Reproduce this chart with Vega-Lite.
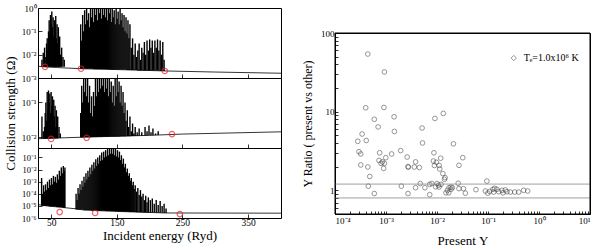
{
  "$schema": "https://vega.github.io/schema/vega-lite/v6.json",
  "background": "white",
  "padding": {"left": 3, "top": 3, "right": 3, "bottom": 3},
  "config": {
    "font": "Liberation Serif",
    "concat": {"spacing": 0},
    "view": {"stroke": "black", "strokeWidth": 1},
    "axis": {"labelFont": "Liberation Serif", "titleFont": "Liberation Serif", "labelFontSize": 10, "titleFontSize": 13, "titleFontWeight": "normal", "grid": false, "domain": false, "tickColor": "black", "labelColor": "black", "titleColor": "black", "tickWidth": 0.8, "labelOverlap": false, "labelSeparation": 0, "labelBound": false},
    "text": {"font": "Liberation Serif"}
  },
  "datasets": {
    "g1": [{"e":30,"v":0.0032},{"e":40,"v":0.003},{"e":60,"v":0.0028},{"e":95,"v":0.0025},{"e":150,"v":0.0023},{"e":225,"v":0.002},{"e":300,"v":0.0018},{"e":400,"v":0.0016}],
    "s1": [
      {"e":36,"t":0.006,"b":0.003},{"e":38,"t":0.012,"b":0.003},{"e":40,"t":0.02,"b":0.003},{"e":41,"t":0.008,"b":0.003},{"e":43,"t":0.03,"b":0.003},{"e":44,"t":0.05,"b":0.003},{"e":45,"t":0.015,"b":0.003},{"e":46,"t":0.1,"b":0.003},{"e":47,"t":0.3,"b":0.003},{"e":48,"t":0.08,"b":0.003},{"e":49,"t":0.5,"b":0.003},{"e":50,"t":0.2,"b":0.003},{"e":51,"t":0.7,"b":0.003},{"e":52,"t":0.15,"b":0.003},{"e":53,"t":0.4,"b":0.003},{"e":54,"t":0.06,"b":0.003},{"e":55,"t":0.3,"b":0.003},{"e":56,"t":0.1,"b":0.003},{"e":57,"t":0.45,"b":0.003},{"e":58,"t":0.05,"b":0.003},{"e":59,"t":0.2,"b":0.003},{"e":60,"t":0.03,"b":0.003},{"e":61,"t":0.15,"b":0.003},{"e":62,"t":0.02,"b":0.003},{"e":63,"t":0.06,"b":0.003},{"e":64,"t":0.01,"b":0.003},{"e":66,"t":0.02,"b":0.003},{"e":68,"t":0.008,"b":0.003},{"e":70,"t":0.006,"b":0.003},
      {"e":95,"t":0.2,"b":0.0025},{"e":96.5,"t":0.04,"b":0.0025},{"e":98,"t":0.5,"b":0.0025},{"e":99.5,"t":0.1,"b":0.0025},{"e":101,"t":0.8,"b":0.0025},{"e":102.5,"t":0.2,"b":0.0025},{"e":104,"t":1.2,"b":0.0025},{"e":105.5,"t":0.3,"b":0.0025},{"e":107,"t":0.6,"b":0.0025},{"e":108.5,"t":0.15,"b":0.0025},{"e":110,"t":1.5,"b":0.0025},{"e":111.5,"t":0.4,"b":0.0025},{"e":113,"t":0.9,"b":0.0025},{"e":114.5,"t":0.25,"b":0.0024},{"e":116,"t":1.5,"b":0.0024},{"e":117.5,"t":0.5,"b":0.0024},{"e":119,"t":1.2,"b":0.0024},{"e":120.5,"t":0.3,"b":0.0024},{"e":122,"t":2,"b":0.0024},{"e":123.5,"t":0.6,"b":0.0024},{"e":125,"t":1,"b":0.0024},{"e":126.5,"t":0.35,"b":0.0024},{"e":128,"t":1.5,"b":0.0024},{"e":129.5,"t":0.5,"b":0.0024},{"e":131,"t":2,"b":0.0024},{"e":132.5,"t":0.4,"b":0.0024},{"e":134,"t":1.1,"b":0.0024},{"e":135.5,"t":0.3,"b":0.0024},{"e":137,"t":1.5,"b":0.0024},{"e":138.5,"t":0.6,"b":0.0023},{"e":140,"t":0.9,"b":0.0023},{"e":141.5,"t":0.25,"b":0.0023},{"e":143,"t":1.3,"b":0.0023},{"e":144.5,"t":0.4,"b":0.0023},{"e":146,"t":0.8,"b":0.0023},{"e":147.5,"t":0.2,"b":0.0023},{"e":149,"t":1.0,"b":0.0023},{"e":150.5,"t":0.35,"b":0.0023},{"e":152,"t":0.7,"b":0.0023},{"e":153.5,"t":0.2,"b":0.0023},{"e":155,"t":1.2,"b":0.0023},{"e":156.5,"t":0.3,"b":0.0023},{"e":158,"t":0.6,"b":0.0023},{"e":159.5,"t":0.15,"b":0.0023},{"e":161,"t":0.5,"b":0.0023},{"e":162.5,"t":0.1,"b":0.0023},{"e":164,"t":0.4,"b":0.0023},{"e":165.5,"t":0.08,"b":0.0022},{"e":167,"t":0.3,"b":0.0022},{"e":168.5,"t":0.05,"b":0.0022},{"e":170,"t":0.2,"b":0.0022},{"e":172,"t":0.02,"b":0.0022},{"e":174,"t":0.05,"b":0.0022},{"e":176,"t":0.01,"b":0.0022},{"e":178,"t":0.03,"b":0.0022},{"e":180,"t":0.008,"b":0.0022},
      {"e":182,"t":0.015,"b":0.0021},{"e":184,"t":0.03,"b":0.0021},{"e":186,"t":0.006,"b":0.0021},{"e":188,"t":0.02,"b":0.0021},{"e":190,"t":0.012,"b":0.0021},{"e":192,"t":0.035,"b":0.0021},{"e":194,"t":0.01,"b":0.0021},{"e":196,"t":0.04,"b":0.0021},{"e":198,"t":0.015,"b":0.0021},{"e":200,"t":0.045,"b":0.0021},{"e":202,"t":0.02,"b":0.0021},{"e":204,"t":0.04,"b":0.0021},{"e":206,"t":0.012,"b":0.0021},{"e":208,"t":0.04,"b":0.0021},{"e":210,"t":0.02,"b":0.0021},{"e":212,"t":0.045,"b":0.0021},{"e":214,"t":0.015,"b":0.0021},{"e":216,"t":0.04,"b":0.002},{"e":218,"t":0.01,"b":0.002},{"e":220,"t":0.035,"b":0.002},{"e":222,"t":0.006,"b":0.002}
    ],
    "z1": [{"e":40.7,"v":0.003},{"e":95.5,"v":0.0025},{"e":223,"v":0.002}],
    "g2": [{"e":30,"v":0.0092},{"e":70,"v":0.0098},{"e":100,"v":0.0102},{"e":200,"v":0.0115},{"e":250,"v":0.0125},{"e":400,"v":0.0145}],
    "s2": [
      {"e":36,"t":0.04,"b":0.0094},{"e":38,"t":0.015,"b":0.0094},{"e":40,"t":0.02,"b":0.0094},{"e":41,"t":0.05,"b":0.0094},{"e":42,"t":0.1,"b":0.0094},{"e":43,"t":0.03,"b":0.0094},{"e":44,"t":0.2,"b":0.0094},{"e":45,"t":0.06,"b":0.0094},{"e":46,"t":0.22,"b":0.0094},{"e":47,"t":0.1,"b":0.0094},{"e":48,"t":0.18,"b":0.0094},{"e":49,"t":0.05,"b":0.0094},{"e":50,"t":0.2,"b":0.0095},{"e":51,"t":0.08,"b":0.0095},{"e":52,"t":0.15,"b":0.0095},{"e":53,"t":0.03,"b":0.0095},{"e":54,"t":0.12,"b":0.0095},{"e":55,"t":0.04,"b":0.0095},{"e":56,"t":0.08,"b":0.0095},{"e":57,"t":0.02,"b":0.0095},{"e":58,"t":0.06,"b":0.0095},{"e":59,"t":0.015,"b":0.0095},{"e":60,"t":0.04,"b":0.0095},{"e":62,"t":0.02,"b":0.0096},{"e":64,"t":0.013,"b":0.0096},
      {"e":95,"t":0.05,"b":0.0101},{"e":96.5,"t":0.3,"b":0.0101},{"e":98,"t":0.1,"b":0.0101},{"e":99.5,"t":0.6,"b":0.0101},{"e":101,"t":0.2,"b":0.0102},{"e":102.5,"t":0.7,"b":0.0102},{"e":104,"t":0.15,"b":0.0102},{"e":105.5,"t":0.5,"b":0.0102},{"e":107,"t":0.1,"b":0.0102},{"e":108.5,"t":0.3,"b":0.0102},{"e":110,"t":0.05,"b":0.0102},{"e":111.5,"t":0.15,"b":0.0103},{"e":113,"t":0.04,"b":0.0103},{"e":114.5,"t":0.2,"b":0.0103},{"e":116,"t":0.08,"b":0.0103},{"e":117.5,"t":0.5,"b":0.0103},{"e":119,"t":0.15,"b":0.0103},{"e":120.5,"t":0.7,"b":0.0104},{"e":122,"t":0.2,"b":0.0104},{"e":123.5,"t":0.6,"b":0.0104},{"e":125,"t":0.25,"b":0.0104},{"e":126.5,"t":0.8,"b":0.0104},{"e":128,"t":0.3,"b":0.0104},{"e":129.5,"t":0.6,"b":0.0105},{"e":131,"t":0.2,"b":0.0105},{"e":132.5,"t":0.7,"b":0.0105},{"e":134,"t":0.25,"b":0.0105},{"e":135.5,"t":0.5,"b":0.0105},{"e":137,"t":0.15,"b":0.0105},{"e":138.5,"t":0.6,"b":0.0106},{"e":140,"t":0.2,"b":0.0106},{"e":141.5,"t":0.4,"b":0.0106},{"e":143,"t":0.1,"b":0.0106},{"e":144.5,"t":0.3,"b":0.0106},{"e":146,"t":0.08,"b":0.0106},{"e":147.5,"t":0.5,"b":0.0107},{"e":149,"t":0.15,"b":0.0107},{"e":150.5,"t":0.6,"b":0.0107},{"e":152,"t":0.2,"b":0.0107},{"e":153.5,"t":0.4,"b":0.0107},{"e":155,"t":0.1,"b":0.0108},{"e":156.5,"t":0.3,"b":0.0108},{"e":158,"t":0.08,"b":0.0108},{"e":159.5,"t":0.2,"b":0.0108},{"e":161,"t":0.05,"b":0.0108},{"e":162.5,"t":0.1,"b":0.0108},{"e":164,"t":0.03,"b":0.0109},{"e":166,"t":0.06,"b":0.0109},{"e":168,"t":0.02,"b":0.0109},{"e":170,"t":0.04,"b":0.0109},{"e":172,"t":0.015,"b":0.011},{"e":174,"t":0.025,"b":0.011},{"e":176,"t":0.013,"b":0.011},{"e":178,"t":0.02,"b":0.011},{"e":181,"t":0.014,"b":0.011},{"e":184,"t":0.018,"b":0.0112},{"e":188,"t":0.014,"b":0.0112},{"e":193,"t":0.02,"b":0.0114},{"e":196,"t":0.015,"b":0.0114},{"e":199,"t":0.022,"b":0.0115},{"e":202,"t":0.014,"b":0.0115},{"e":205,"t":0.018,"b":0.0116},{"e":209,"t":0.013,"b":0.0117},{"e":213,"t":0.015,"b":0.0118}
    ],
    "z2": [{"e":50,"v":0.0091},{"e":104,"v":0.0098},{"e":234,"v":0.0125}],
    "g3": [{"e":30,"v":1.3e-5},{"e":36,"v":1.1e-5},{"e":72,"v":7e-6},{"e":80,"v":6.3e-6},{"e":88,"v":5.8e-6},{"e":100,"v":4.5e-6},{"e":150,"v":3.5e-6},{"e":225,"v":2.6e-6},{"e":400,"v":2.5e-6}],
    "s3": [
      {"e":35.5,"t":2e-3,"b":1.1e-5},{"e":37,"t":1e-4,"b":1e-5},{"e":38.5,"t":5e-4,"b":1e-5},{"e":40,"t":1.5e-4,"b":1e-5},{"e":41.5,"t":6e-4,"b":1e-5},{"e":43,"t":2e-4,"b":1e-5},{"e":44.5,"t":1e-3,"b":1e-5},{"e":46,"t":3e-4,"b":1e-5},{"e":47.5,"t":1.5e-3,"b":9e-6},{"e":49,"t":5e-4,"b":9e-6},{"e":50.5,"t":2e-3,"b":9e-6},{"e":52,"t":6e-4,"b":9e-6},{"e":53.5,"t":3e-3,"b":9e-6},{"e":55,"t":1e-3,"b":9e-6},{"e":56.5,"t":2.5e-3,"b":9e-6},{"e":58,"t":8e-4,"b":8e-6},{"e":59.5,"t":4e-3,"b":8e-6},{"e":61,"t":1.5e-3,"b":8e-6},{"e":62.5,"t":8e-3,"b":8e-6},{"e":64,"t":3e-3,"b":8e-6},{"e":65.5,"t":1.5e-2,"b":8e-6},{"e":67,"t":5e-3,"b":8e-6},{"e":68.5,"t":2e-2,"b":7e-6},{"e":70,"t":8e-3,"b":7e-6},{"e":71,"t":1.5e-2,"b":7e-6},
      {"e":88,"t":1e-4,"b":5e-6},{"e":89.5,"t":3e-5,"b":5e-6},{"e":91,"t":3e-4,"b":5e-6},{"e":92.5,"t":1e-4,"b":5e-6},{"e":94,"t":6e-4,"b":5e-6},{"e":95.5,"t":2e-4,"b":5e-6},{"e":97,"t":1.2e-3,"b":5e-6},{"e":98.5,"t":4e-4,"b":5e-6},{"e":100,"t":2.5e-3,"b":4.5e-6},{"e":101.5,"t":8e-4,"b":4.5e-6},{"e":103,"t":5e-3,"b":4.5e-6},{"e":104.5,"t":1.5e-3,"b":4.5e-6},{"e":106,"t":8e-3,"b":4.5e-6},{"e":107.5,"t":2.5e-3,"b":4.5e-6},{"e":109,"t":1.5e-2,"b":4.5e-6},{"e":110.5,"t":4e-3,"b":4.5e-6},{"e":112,"t":2.5e-2,"b":4.2e-6},{"e":113.5,"t":8e-3,"b":4.2e-6},{"e":115,"t":4e-2,"b":4.2e-6},{"e":116.5,"t":1.2e-2,"b":4.2e-6},{"e":118,"t":7e-2,"b":4.2e-6},{"e":119.5,"t":2e-2,"b":4.2e-6},{"e":121,"t":0.1,"b":4.2e-6},{"e":122.5,"t":3e-2,"b":4e-6},{"e":124,"t":0.15,"b":4e-6},{"e":125.5,"t":5e-2,"b":4e-6},{"e":127,"t":0.25,"b":4e-6},{"e":128.5,"t":6e-2,"b":4e-6},{"e":130,"t":0.3,"b":4e-6},{"e":131.5,"t":0.1,"b":4e-6},{"e":133,"t":0.4,"b":3.8e-6},{"e":134.5,"t":0.12,"b":3.8e-6},{"e":136,"t":0.5,"b":3.8e-6},{"e":137.5,"t":0.15,"b":3.8e-6},{"e":139,"t":0.6,"b":3.8e-6},{"e":140.5,"t":0.2,"b":3.8e-6},{"e":142,"t":0.7,"b":3.7e-6},{"e":143.5,"t":0.2,"b":3.7e-6},{"e":145,"t":0.5,"b":3.7e-6},{"e":146.5,"t":0.15,"b":3.7e-6},{"e":148,"t":0.6,"b":3.6e-6},{"e":149.5,"t":0.12,"b":3.6e-6},{"e":151,"t":0.4,"b":3.5e-6},{"e":152.5,"t":0.1,"b":3.5e-6},{"e":154,"t":0.3,"b":3.5e-6},{"e":155.5,"t":0.06,"b":3.5e-6},{"e":157,"t":0.15,"b":3.4e-6},{"e":158.5,"t":0.03,"b":3.4e-6},{"e":160,"t":0.08,"b":3.4e-6},{"e":161.5,"t":1.5e-2,"b":3.4e-6},{"e":163,"t":3e-2,"b":3.3e-6},{"e":164.5,"t":6e-3,"b":3.3e-6},{"e":166,"t":1.2e-2,"b":3.3e-6},{"e":167.5,"t":3e-3,"b":3.3e-6},{"e":169,"t":5e-3,"b":3.2e-6},{"e":170.5,"t":1.2e-3,"b":3.2e-6},{"e":172,"t":2e-3,"b":3.2e-6},{"e":173.5,"t":5e-4,"b":3.2e-6},{"e":175,"t":1e-3,"b":3.1e-6},{"e":176.5,"t":2.5e-4,"b":3.1e-6},{"e":178,"t":5e-4,"b":3.1e-6},{"e":180,"t":1.5e-4,"b":3e-6},{"e":182,"t":3e-4,"b":3e-6},{"e":184,"t":8e-5,"b":3e-6},{"e":186,"t":2e-4,"b":3e-6},{"e":188,"t":6e-5,"b":3e-6},{"e":190,"t":1e-4,"b":2.9e-6},{"e":192,"t":3e-5,"b":2.9e-6},{"e":194,"t":7e-5,"b":2.9e-6},{"e":196,"t":2e-5,"b":2.9e-6},{"e":198,"t":5e-5,"b":2.8e-6},{"e":201,"t":3e-5,"b":2.8e-6},{"e":204,"t":4e-5,"b":2.8e-6},{"e":207,"t":1.5e-5,"b":2.8e-6},{"e":210,"t":3e-5,"b":2.7e-6},{"e":213,"t":1.2e-5,"b":2.7e-6},{"e":216,"t":2.5e-5,"b":2.7e-6},{"e":219,"t":1e-5,"b":2.7e-6},{"e":222,"t":1.5e-5,"b":2.6e-6},{"e":225,"t":6e-6,"b":2.6e-6}
    ],
    "z3": [{"e":63,"v":3.1e-6},{"e":117,"v":2.6e-6},{"e":246,"v":2.1e-6}],
    "sc": [
      {"x":4.4e-4,"y":54},{"x":9.3e-4,"y":32},{"x":4.0e-4,"y":11.2},{"x":9.1e-4,"y":11.3},{"x":5.9e-4,"y":8.0},{"x":1.44e-3,"y":8.6},{"x":7.0e-4,"y":6.4},{"x":5.1e-3,"y":6.2},{"x":9.1e-3,"y":8.2},{"x":1.33e-2,"y":9.5},
      {"x":3.4e-4,"y":5.2},{"x":1.46e-3,"y":5.6},{"x":2.8e-4,"y":4.2},{"x":4.1e-4,"y":4.3},{"x":5.2e-3,"y":4.0},{"x":2.1e-2,"y":3.9},{"x":2.95e-4,"y":3.1},{"x":3.2e-4,"y":2.9},{"x":7.5e-4,"y":3.0},{"x":1.94e-3,"y":3.2},
      {"x":1.29e-3,"y":2.9},{"x":8.7e-3,"y":3.0},{"x":7.3e-4,"y":2.4},{"x":9.9e-4,"y":2.6},{"x":3.2e-4,"y":2.1},{"x":4.4e-4,"y":1.98},{"x":8.0e-4,"y":2.2},{"x":8.5e-4,"y":2.3},{"x":9.3e-4,"y":2.2},{"x":9.0e-4,"y":1.9},
      {"x":2.6e-3,"y":2.65},{"x":3.8e-3,"y":2.3},{"x":2.7e-3,"y":2.0},{"x":2.75e-3,"y":1.97},{"x":3.6e-3,"y":1.98},{"x":4.5e-3,"y":1.95},{"x":8.5e-3,"y":2.36},{"x":9.7e-3,"y":2.27},{"x":8.9e-3,"y":2.07},{"x":1.1e-2,"y":2.07},
      {"x":1.18e-2,"y":2.56},{"x":3.2e-2,"y":2.6},{"x":2.7e-2,"y":2.08},{"x":1.13e-2,"y":1.87},{"x":1.3e-2,"y":1.63},{"x":1.44e-2,"y":1.45},{"x":1.4e-2,"y":1.38},{"x":4.8e-4,"y":1.5},{"x":4.5e-4,"y":1.13},{"x":5.9e-4,"y":0.91},
      {"x":2.0e-3,"y":1.13},{"x":2.7e-3,"y":0.91},{"x":4.7e-3,"y":1.22},{"x":3.8e-3,"y":1.08},{"x":7.2e-3,"y":1.19},{"x":7.9e-3,"y":1.22},{"x":1.0e-2,"y":1.22},{"x":1.07e-2,"y":1.16},{"x":9.4e-3,"y":1.11},{"x":1.1e-2,"y":1.1},
      {"x":1.2e-2,"y":1.19},{"x":1.72e-2,"y":1.08},{"x":1.88e-2,"y":1.1},{"x":2.0e-2,"y":1.08},{"x":1.88e-2,"y":1.03},{"x":1.5e-2,"y":0.93},{"x":1.7e-2,"y":0.93},{"x":1.6e-2,"y":1.0},{"x":2.6e-2,"y":1.23},{"x":2.7e-2,"y":1.05},
      {"x":3.3e-2,"y":1.05},{"x":3.6e-2,"y":0.92},{"x":5.8e-3,"y":1.08},{"x":7.2e-3,"y":0.88},{"x":5.8e-2,"y":1.02},{"x":9.5e-2,"y":1.31},{"x":8.9e-2,"y":0.98},{"x":9.9e-2,"y":0.92},{"x":0.108,"y":0.97},{"x":0.125,"y":1.03},
      {"x":0.135,"y":1.06},{"x":0.129,"y":0.95},{"x":0.15,"y":1.03},{"x":0.162,"y":0.96},{"x":0.188,"y":1.0},{"x":0.197,"y":0.93},{"x":0.219,"y":1.01},{"x":0.236,"y":0.96},{"x":0.274,"y":0.95},{"x":0.334,"y":0.95},
      {"x":0.40,"y":0.95},{"x":0.50,"y":1.0},{"x":0.60,"y":0.98}
    ],
    "hl": [{"r":1.2},{"r":0.8}],
    "fh": [{"r":0.5},{"r":100}],
    "fv": [{"q":0.0001},{"q":10}],
    "one": [{"k":1}]
  },
  "spacing": 19,
  "hconcat": [
    {
      "spacing": -6,
      "bounds": "flush",
      "resolve": {"scale": {"x": "independent", "y": "independent"}},
      "vconcat": [
        {
          "width": 243, "height": 70,
          "layer": [
            {"data": {"name": "g1"}, "mark": {"type": "line", "color": "black", "strokeWidth": 0.8, "clip": true},
             "encoding": {
               "x": {"field": "e", "type": "quantitative", "scale": {"domain": [30, 400], "nice": false, "zero": false},
                     "axis": {"values": [50,75,100,125,150,175,200,225,250,275,300,325,350,375,400], "labels": false, "title": null, "tickSize": -4}},
               "y": {"field": "v", "type": "quantitative", "scale": {"type": "log", "domain": [0.001, 1], "nice": false},
                     "axis": {"values": [1, 0.1, 0.01, 0.001], "title": null, "tickSize": -4, "labelPadding": 6, "labelFontSize": 9, "labelOverlap": false, "labelExpr": "['10⁰','10⁻¹','10⁻²','10⁻³'][round(-log(datum.value)/LN10)]"}}
             }},
            {"data": {"name": "s1"}, "mark": {"type": "rule", "color": "black", "strokeWidth": 1.4, "clip": true},
             "encoding": {"x": {"field": "e", "type": "quantitative"}, "y": {"field": "t", "type": "quantitative"}, "y2": {"field": "b"}}},
            {"data": {"name": "z1"}, "mark": {"type": "point", "shape": "circle", "filled": false, "color": "#e8202a", "size": 30, "strokeWidth": 1.2},
             "encoding": {"x": {"field": "e", "type": "quantitative"}, "y": {"field": "v", "type": "quantitative"}}},
            {"mark": {"type": "rule", "color": "black", "strokeWidth": 1}, "encoding": {"x": {"datum": 316}, "x2": {"datum": 350}, "y": {"datum": 0.34}}},
            {"mark": {"type": "text", "align": "left", "baseline": "middle", "fontSize": 11}, "encoding": {"x": {"datum": 353}, "y": {"datum": 0.34}, "text": {"value": "ICFT"}}},
            {"mark": {"type": "point", "shape": "circle", "filled": false, "color": "#e8202a", "size": 30, "strokeWidth": 1.2}, "encoding": {"x": {"datum": 333}, "y": {"datum": 0.103}}},
            {"mark": {"type": "text", "align": "left", "baseline": "middle", "fontSize": 11}, "encoding": {"x": {"datum": 353}, "y": {"datum": 0.103}, "text": {"value": "ZS94"}}},
            {"mark": {"type": "text", "align": "center", "baseline": "middle", "fontSize": 10}, "encoding": {"x": {"datum": 223}, "y": {"datum": 0.31}, "text": {"value": "1 – 4"}}}
          ]
        },
        {
          "width": 243, "height": 70,
          "layer": [
            {"data": {"name": "g2"}, "mark": {"type": "line", "color": "black", "strokeWidth": 0.8, "clip": true},
             "encoding": {
               "x": {"field": "e", "type": "quantitative", "scale": {"domain": [30, 400], "nice": false, "zero": false},
                     "axis": {"values": [50,75,100,125,150,175,200,225,250,275,300,325,350,375,400], "labels": false, "title": null, "tickSize": -4}},
               "y": {"field": "v", "type": "quantitative", "scale": {"type": "log", "domain": [0.005, 0.5], "nice": false},
                     "axis": {"values": [0.1, 0.01], "title": "Collision strength (Ω)", "titlePadding": 4, "tickSize": -4, "labelPadding": 6, "labelFontSize": 9, "labelOverlap": false, "labelExpr": "['10⁰','10⁻¹','10⁻²','10⁻³'][round(-log(datum.value)/LN10)]"}}
             }},
            {"data": {"name": "s2"}, "mark": {"type": "rule", "color": "black", "strokeWidth": 1.4, "clip": true},
             "encoding": {"x": {"field": "e", "type": "quantitative"}, "y": {"field": "t", "type": "quantitative"}, "y2": {"field": "b"}}},
            {"data": {"name": "z2"}, "mark": {"type": "point", "shape": "circle", "filled": false, "color": "#e8202a", "size": 30, "strokeWidth": 1.2},
             "encoding": {"x": {"field": "e", "type": "quantitative"}, "y": {"field": "v", "type": "quantitative"}}},
            {"mark": {"type": "rule", "color": "black", "strokeWidth": 1}, "encoding": {"x": {"datum": 322}, "x2": {"datum": 350}, "y": {"datum": 0.277}}},
            {"mark": {"type": "text", "align": "left", "baseline": "middle", "fontSize": 11}, "encoding": {"x": {"datum": 353}, "y": {"datum": 0.277}, "text": {"value": "ICFT"}}},
            {"mark": {"type": "point", "shape": "circle", "filled": false, "color": "#e8202a", "size": 30, "strokeWidth": 1.2}, "encoding": {"x": {"datum": 337}, "y": {"datum": 0.134}}},
            {"mark": {"type": "text", "align": "left", "baseline": "middle", "fontSize": 11}, "encoding": {"x": {"datum": 353}, "y": {"datum": 0.134}, "text": {"value": "ZS94"}}},
            {"mark": {"type": "text", "align": "center", "baseline": "middle", "fontSize": 10}, "encoding": {"x": {"datum": 228}, "y": {"datum": 0.36}, "text": {"value": "1 – 10"}}}
          ]
        },
        {
          "width": 243, "height": 70,
          "layer": [
            {"data": {"name": "g3"}, "mark": {"type": "line", "color": "black", "strokeWidth": 0.8, "clip": true},
             "encoding": {
               "x": {"field": "e", "type": "quantitative", "scale": {"domain": [30, 400], "nice": false, "zero": false},
                     "axis": {"values": [50,100,150,200,250,300,350,400], "format": "d", "labelOverlap": false, "labelSeparation": 0, "labelFontSize": 9.5, "labelPadding": 3, "title": "Incident energy (Ryd)", "titlePadding": 3, "tickSize": -4}},
               "y": {"field": "v", "type": "quantitative", "scale": {"type": "log", "domain": [1e-6, 0.6], "nice": false},
                     "axis": {"values": [0.1, 0.01, 0.001, 0.0001, 0.00001, 0.000001], "title": null, "tickSize": -4, "labelPadding": 6, "labelFontSize": 8.5, "labelOverlap": false, "labelExpr": "['10⁰','10⁻¹','10⁻²','10⁻³','10⁻⁴','10⁻⁵','10⁻⁶'][round(-log(datum.value)/LN10)]"}}
             }},
            {"data": {"name": "s3"}, "mark": {"type": "rule", "color": "black", "strokeWidth": 1.4, "clip": true},
             "encoding": {"x": {"field": "e", "type": "quantitative"}, "y": {"field": "t", "type": "quantitative"}, "y2": {"field": "b"}}},
            {"data": {"name": "z3"}, "mark": {"type": "point", "shape": "circle", "filled": false, "color": "#e8202a", "size": 30, "strokeWidth": 1.2},
             "encoding": {"x": {"field": "e", "type": "quantitative"}, "y": {"field": "v", "type": "quantitative"}}},
            {"mark": {"type": "rule", "color": "black", "strokeWidth": 1}, "encoding": {"x": {"datum": 319}, "x2": {"datum": 352}, "y": {"datum": 0.1}}},
            {"mark": {"type": "text", "align": "left", "baseline": "middle", "fontSize": 11}, "encoding": {"x": {"datum": 355}, "y": {"datum": 0.1}, "text": {"value": "ICFT"}}},
            {"mark": {"type": "point", "shape": "circle", "filled": false, "color": "#e8202a", "size": 30, "strokeWidth": 1.2}, "encoding": {"x": {"datum": 334}, "y": {"datum": 0.0125}}},
            {"mark": {"type": "text", "align": "left", "baseline": "middle", "fontSize": 11}, "encoding": {"x": {"datum": 353}, "y": {"datum": 0.0125}, "text": {"value": "ZS94"}}},
            {"mark": {"type": "text", "align": "center", "baseline": "middle", "fontSize": 10}, "encoding": {"x": {"datum": 220}, "y": {"datum": 0.42}, "text": {"value": "1 – 15"}}}
          ]
        }
      ]
    },
    {
      "spacing": 0,
      "vconcat": [
        {"width": 255, "height": 19, "view": {"stroke": "transparent"}, "data": {"values": []}, "mark": {"type": "point", "opacity": 0}, "encoding": {}},
        {
          "width": 255, "height": 181,
          "layer": [
            {"data": {"name": "sc"}, "mark": {"type": "point", "shape": "circle", "filled": false, "color": "#444444", "size": 22, "strokeWidth": 0.8},
             "encoding": {
               "x": {"field": "x", "type": "quantitative", "scale": {"type": "log", "domain": [0.0001, 10], "nice": false},
                     "axis": {"values": [0.0001,0.0002,0.0003,0.0004,0.0005,0.0006,0.0007,0.0008,0.0009,0.001,0.002,0.003,0.004,0.005,0.006,0.007,0.008,0.009,0.01,0.02,0.03,0.04,0.05,0.06,0.07,0.08,0.09,0.1,0.2,0.3,0.4,0.5,0.6,0.7,0.8,0.9,1,2,3,4,5,6,7,8,9,10],
                              "labelExpr": "abs(log(datum.value)/LN10 - round(log(datum.value)/LN10)) < 0.001 ? ['10⁻⁴','10⁻³','10⁻²','10⁻¹','10⁰','10¹'][round(log(datum.value)/LN10)+4] : ''",
                              "labelFontSize": 9, "labelPadding": 5, "labelOverlap": false, "title": "Present Υ", "titlePadding": 9, "tickSize": -3}},
               "y": {"field": "y", "type": "quantitative", "scale": {"type": "log", "domain": [0.5, 100], "nice": false},
                     "axis": {"values": [0.5,0.6,0.7,0.8,0.9,1,2,3,4,5,6,7,8,9,10,20,30,40,50,60,70,80,90,100],
                              "labelExpr": "abs(log(datum.value)/LN10 - round(log(datum.value)/LN10)) < 0.001 ? '' + datum.value : ''",
                              "labelFontSize": 9, "labelPadding": 4, "labelOverlap": false, "title": "Υ Ratio ( present vs other)", "titleFontSize": 12, "titlePadding": 6, "tickSize": -3}}
             }},
            {"data": {"name": "hl"}, "mark": {"type": "rule", "color": "#888888", "strokeWidth": 0.8},
             "encoding": {"y": {"field": "r", "type": "quantitative"}}},
            {"data": {"name": "fh"}, "mark": {"type": "rule", "color": "black", "strokeWidth": 1},
             "encoding": {"y": {"field": "r", "type": "quantitative"}}},
            {"data": {"name": "fv"}, "mark": {"type": "rule", "color": "black", "strokeWidth": 1},
             "encoding": {"x": {"field": "q", "type": "quantitative"}}},
            {"data": {"name": "one"}, "mark": {"type": "point", "shape": "diamond", "filled": false, "color": "#444444", "size": 28, "strokeWidth": 0.8},
             "encoding": {"x": {"datum": 0.32}, "y": {"datum": 48}}},
            {"data": {"name": "one"}, "mark": {"type": "text", "align": "left", "baseline": "middle", "fontSize": 10, "color": "black"}, "encoding": {"x": {"datum": 0.5}, "y": {"datum": 48}, "text": {"value": "Tₑ=1.0x10⁶ K"}}}
          ]
        }
      ]
    }
  ]
}
